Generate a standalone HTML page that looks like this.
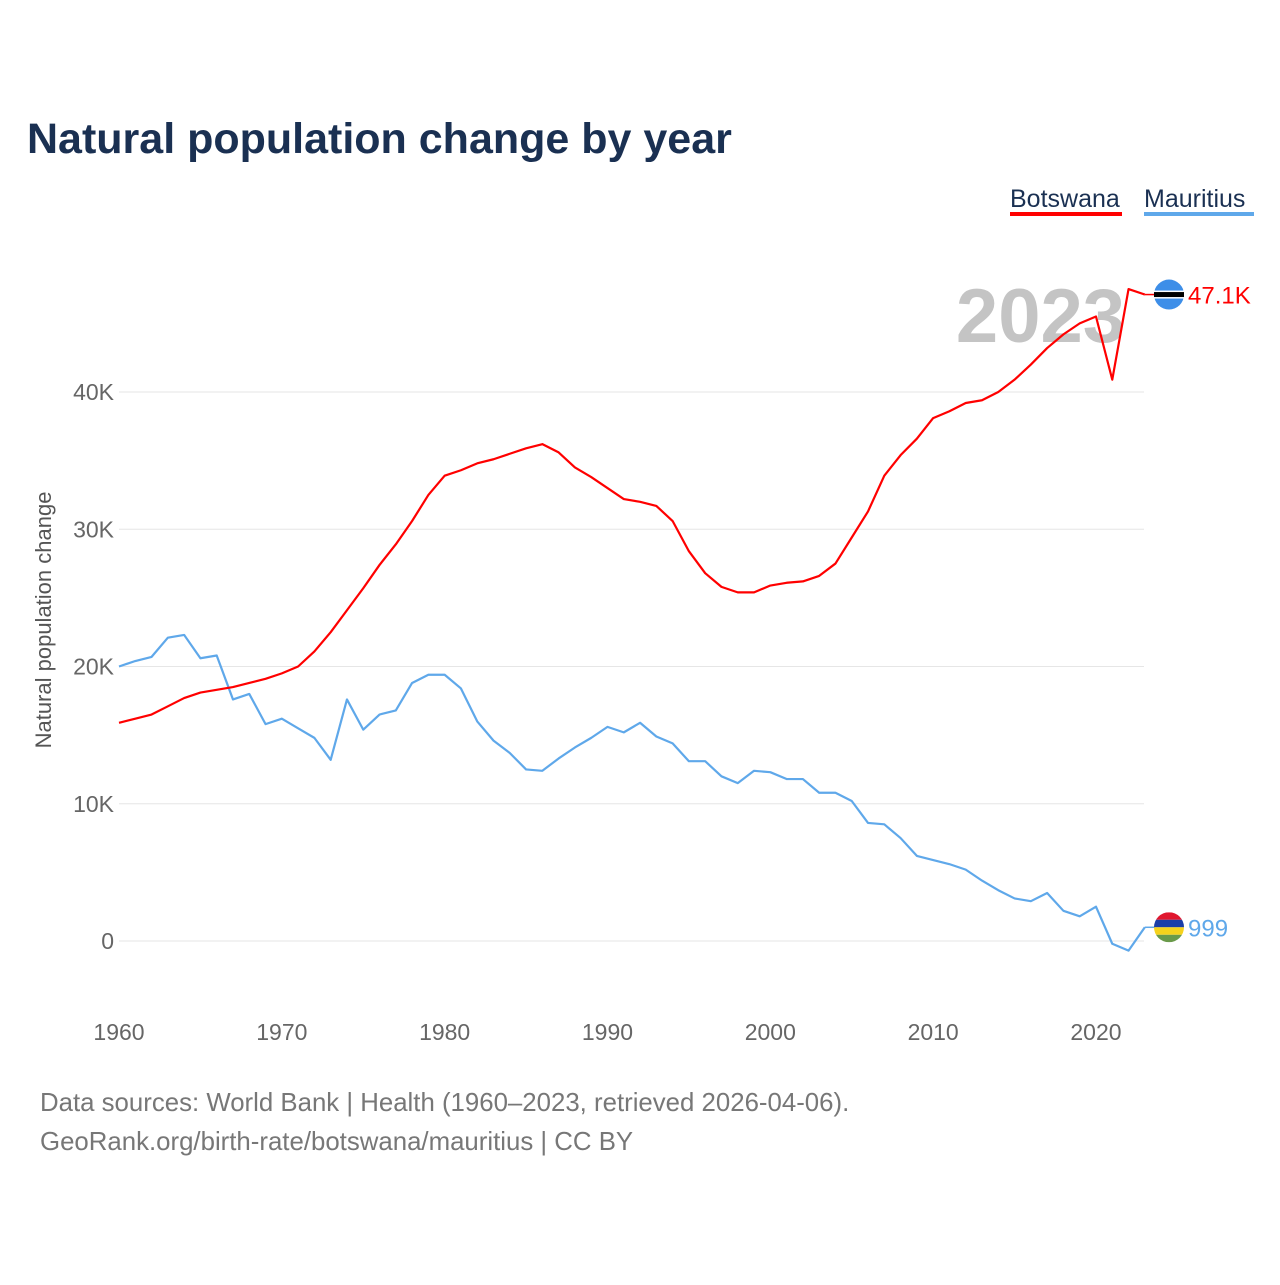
<!DOCTYPE html>
<html><head><meta charset="utf-8"><style>
body{margin:0;background:#fff;font-family:"Liberation Sans",sans-serif;}
svg text{font-family:"Liberation Sans",sans-serif;}
</style></head><body>
<svg id="chart" width="1280" height="1280" viewBox="0 0 1280 1280">
<text x="27" y="153" font-size="43" font-weight="bold" fill="#1a3052">Natural population change by year</text>
<g>
<text x="1010" y="207" font-size="25" fill="#1a3052">Botswana</text>
<rect x="1010" y="212" width="112" height="4" fill="#ff0000"/>
<text x="1144" y="207" font-size="25" fill="#1a3052">Mauritius</text>
<rect x="1144" y="212" width="110" height="4" fill="#5fa8ea"/>
</g>
<text x="1125" y="342" font-size="76" font-weight="bold" fill="#c4c4c4" text-anchor="end">2023</text>
<text transform="translate(51,620) rotate(-90)" font-size="22" fill="#555" text-anchor="middle">Natural population change</text>
<g id="grid"></g><g id="xt"></g><g id="lines"></g><g id="ends"></g>
<text x="40" y="1111" font-size="25.8" fill="#777">Data sources: World Bank | Health (1960–2023, retrieved 2026-04-06).</text>
<text x="40" y="1150" font-size="25.8" fill="#777">GeoRank.org/birth-rate/botswana/mauritius | CC BY</text>
</svg>
<script>
const years=[];for(let y=1960;y<=2023;y++)years.push(y);
const botswana=[15.9,16.2,16.5,17.1,17.7,18.1,18.3,18.5,18.8,19.1,19.5,20.0,21.1,22.5,24.1,25.7,27.4,28.9,30.6,32.5,33.9,34.3,34.8,35.1,35.5,35.9,36.2,35.6,34.5,33.8,33.0,32.2,32.0,31.7,30.6,28.4,26.8,25.8,25.4,25.4,25.9,26.1,26.2,26.6,27.5,29.4,31.3,33.9,35.4,36.6,38.1,38.6,39.2,39.4,40.0,40.9,42.0,43.2,44.2,45.0,45.5,40.9,47.5,47.1];
const mauritius=[20.0,20.4,20.7,22.1,22.3,20.6,20.8,17.6,18.0,15.8,16.2,15.5,14.8,13.2,17.6,15.4,16.5,16.8,18.8,19.4,19.4,18.4,16.0,14.6,13.7,12.5,12.4,13.3,14.1,14.8,15.6,15.2,15.9,14.9,14.4,13.1,13.1,12.0,11.5,12.4,12.3,11.8,11.8,10.8,10.8,10.2,8.6,8.5,7.5,6.2,5.9,5.6,5.2,4.4,3.7,3.1,2.9,3.5,2.2,1.8,2.5,-0.2,-0.7,0.999];
const yTicks=[0,10,20,30,40];
const yTickLabels=["0","10K","20K","30K","40K"];
const xTicks=[1960,1970,1980,1990,2000,2010,2020];
const NS="http://www.w3.org/2000/svg";
const X=v=>119+(v-1960)*16.283;
const Y=v=>941-v*13.725;
function mk(tag,attrs,parent){const e=document.createElementNS(NS,tag);for(const k in attrs)e.setAttribute(k,attrs[k]);parent.appendChild(e);return e;}
const grid=document.getElementById('grid');
yTicks.forEach((t,i)=>{
 const l=mk('line',{x1:119,x2:1144,y1:Y(t),y2:Y(t),stroke:'#e6e6e6','stroke-width':1},grid);
 
 
 const tx=mk('text',{x:114,y:Y(t)+8,'font-size':23,fill:'#666','text-anchor':'end'},grid);
 tx.textContent=yTickLabels[i];
 
 
});
const xt=document.getElementById('xt');
xTicks.forEach(t=>{
 const tx=mk('text',{x:X(t),y:1040,'font-size':23,fill:'#666','text-anchor':'middle'},xt);
 tx.textContent=t;
 
 
});
const lines=document.getElementById('lines');
function series(vals,color,name){
 const p=mk('polyline',{points:vals.map((v,i)=>X(years[i])+','+Y(v)).join(' '),fill:'none',stroke:color,'stroke-width':2.2,'stroke-linejoin':'round'},lines);
 
 
}
series(mauritius,'#5fa8ea','mauritius');
series(botswana,'#ff0000','botswana');
const ends=document.getElementById('ends');
const bl=botswana[botswana.length-1],by=Y(bl),ex=X(2023);
mk('line',{x1:ex,x2:1155,y1:by,y2:by,stroke:'#ff0000','stroke-width':1.5},ends);
const bg=mk('g',{},ends);


mk('circle',{cx:1169,cy:by,r:15,fill:'#3d8ee8'},bg);
mk('rect',{x:1154,y:by-4,width:30,height:8,fill:'#fff'},bg);
mk('rect',{x:1154,y:by-2.5,width:30,height:5,fill:'#000'},bg);
const bt=mk('text',{x:1188,y:by+9,'font-size':24,fill:'#ff0000'},ends);
bt.textContent='47.1K';


const my=Y(mauritius[mauritius.length-1]);
mk('line',{x1:ex,x2:1155,y1:my,y2:my,stroke:'#5fa8ea','stroke-width':1.5},ends);
const mg=mk('g',{},ends);


const cp=mk('clipPath',{id:'mc'},mg);mk('circle',{cx:1169,cy:my,r:15},cp);
[['#e0172e',-15],['#1a3ea8',-7.5],['#f6d21c',0],['#6a9a4a',7.5]].forEach(([c,o])=>mk('rect',{x:1154,y:my+o,width:30,height:7.5,fill:c,'clip-path':'url(#mc)'},mg));
const mt=mk('text',{x:1188,y:my+9,'font-size':24,fill:'#5fa8ea'},ends);
mt.textContent='999';


</script>
</body></html>
